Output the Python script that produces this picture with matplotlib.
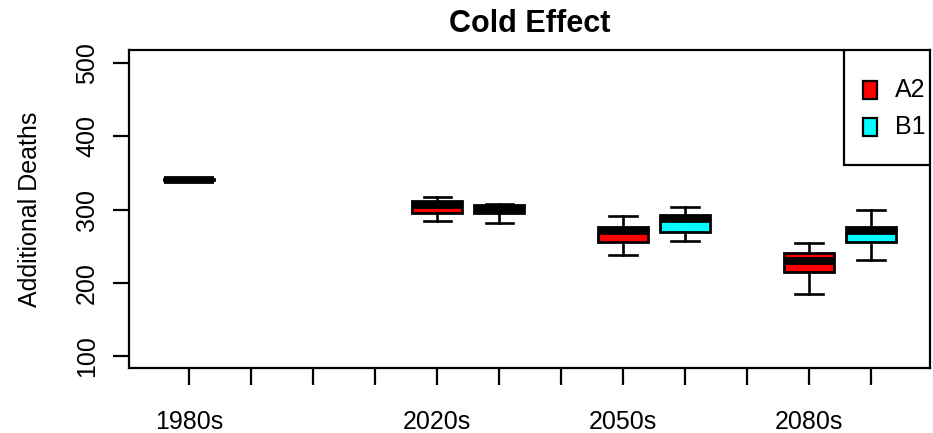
import matplotlib

matplotlib.use("Agg")
import matplotlib.pyplot as plt
from matplotlib.patches import Rectangle

plt.rcParams.update({
    "font.family": ["Liberation Sans", "DejaVu Sans"],
    "font.size": 18,
    "axes.linewidth": 1.6,
    "xtick.major.width": 1.6,
    "ytick.major.width": 1.6,
})

# ── Data: box summaries (additional deaths) ──────────────────────────
periods = ["1980s", "2020s", "2050s", "2080s"]
scenarios = ["A2", "B1"]
scenario_colors = {"A2": "#ff0000", "B1": "#00ffff"}

# baseline period has a single box
base_stats = [340, 340, 341, 342, 342]  # whislo, q1, med, q3, whishi

# future periods: 2020s, 2050s, 2080s
a2_whislo = [285, 238, 185]
a2_q1 = [295, 256, 215]
a2_med = [306, 271, 230]
a2_q3 = [312, 276, 241]
a2_whishi = [318, 292, 255]

b1_whislo = [282, 258, 232]
b1_q1 = [295, 270, 256]
b1_med = [301, 288, 271]
b1_q3 = [306, 293, 276]
b1_whishi = [308, 304, 299]

# slot layout along x: 12 tick slots, labels under the first box of each period
base_pos = 1
a2_pos = [5, 8, 11]
b1_pos = [6, 9, 12]
label_pos = [1, 5, 8, 11]
n_slots = 12


def stat(lo, q1, med, q3, hi):
    return {"whislo": lo, "q1": q1, "med": med, "q3": q3, "whishi": hi,
            "fliers": []}


stats, pos, fills = [], [], []
stats.append(stat(*base_stats))
pos.append(base_pos)
fills.append(scenario_colors["A2"])
for i in range(3):
    stats.append(stat(a2_whislo[i], a2_q1[i], a2_med[i], a2_q3[i], a2_whishi[i]))
    pos.append(a2_pos[i])
    fills.append(scenario_colors["A2"])
    stats.append(stat(b1_whislo[i], b1_q1[i], b1_med[i], b1_q3[i], b1_whishi[i]))
    pos.append(b1_pos[i])
    fills.append(scenario_colors["B1"])

fig = plt.figure(figsize=(9.33, 4.33), dpi=100)
ax = fig.add_axes([0.1383, 0.1501, 0.8585, 0.7344])

line = {"color": "black", "linewidth": 1.9}
bp = ax.bxp(stats, positions=pos, widths=0.8, patch_artist=True,
            showfliers=False, capwidths=0.44,
            boxprops={"edgecolor": "black", "linewidth": 2.0},
            whiskerprops=line, capprops=line,
            medianprops={"color": "black", "linewidth": 5.6,
                         "solid_capstyle": "butt"})
for box, c in zip(bp["boxes"], fills):
    box.set_facecolor(c)

ax.set_xlim(0.03, 12.95)
ax.set_ylim(84, 518)
ax.set_xticks(range(1, n_slots + 1))
ax.set_xticklabels([periods[label_pos.index(p)] if p in label_pos else ""
                    for p in range(1, n_slots + 1)])
ax.set_yticks([100, 200, 300, 400, 500])
ax.tick_params(axis="x", length=12, pad=18)
ax.tick_params(axis="y", length=11.5, pad=10, labelrotation=90)
for lbl in ax.get_yticklabels():
    lbl.set_va("center")

ax.set_ylabel("Additional Deaths", labelpad=24)
ax.set_title("Cold Effect", fontsize=22, fontweight="bold", pad=13)

# legend box in the top-right corner
tr = ax.transAxes
ax.add_patch(Rectangle((0.8927, 0.6384), 0.1073, 0.3616, transform=tr,
                       facecolor="white", edgecolor="black", linewidth=1.6,
                       zorder=5))
for name, yc in zip(scenarios, [0.874, 0.758]):
    ax.add_patch(Rectangle((0.9164, yc - 0.029), 0.0175, 0.058, transform=tr,
                           facecolor=scenario_colors[name], edgecolor="black",
                           linewidth=1.6, zorder=6))
    ax.text(0.9563, yc, name, transform=tr, va="center", ha="left",
            fontsize=18, zorder=6)

fig.savefig("out.png", dpi=100)
